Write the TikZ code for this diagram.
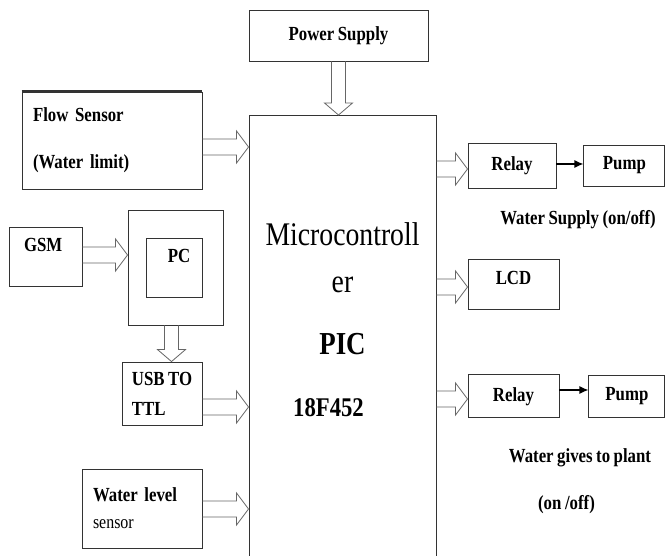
\documentclass[tikz,border=0pt]{standalone}
\usepackage{fontspec}
\setmainfont{Liberation Serif}[FakeStretch=0.84, WordSpace=0.84]
\usepackage{tikz}
\usetikzlibrary{positioning,arrows.meta,calc}
\definecolor{edge}{HTML}{333333}
\definecolor{hollowc}{HTML}{666666}
\tikzset{
  blk/.style={draw=edge, line width=0.9pt, inner sep=0pt,
              font=\bfseries\fontsize{20}{24}\selectfont},
  lblk/.style={blk, align=left},
  lbl/.style={inner sep=0pt, font=\bfseries\fontsize{20}{24}\selectfont},
  fat/.style={draw=hollowc, line width=0.8pt, line join=miter},
  wire/.style={draw=black, line width=1.2pt, ->},
  >={Latex[length=9pt,width=8pt]},
}
\newcommand{\rfat}[2]{%
  \draw[fat] ($(#1)+(0,-8)$) -- ($(#2)+(-12,-8)$) -- ($(#2)+(-12,-16)$) -- (#2)
    -- ($(#2)+(-12,16)$) -- ($(#2)+(-12,8)$) -- ($(#1)+(0,8)$);}
\newcommand{\dfat}[2]{%
  \draw[fat] ($(#1)+(-7,0)$) -- ($(#2)+(-7,-12)$) -- ($(#2)+(-14,-12)$) -- (#2)
    -- ($(#2)+(14,-12)$) -- ($(#2)+(7,-12)$) -- ($(#1)+(7,0)$);}

\begin{document}
\begin{tikzpicture}[x=1pt, y=-1pt, node distance=27pt]
\clip (0,0) rectangle (665,556);
\node[blk, minimum width=179pt, minimum height=51pt] (power) at (338.5,35.5) {Power Supply};
\node[blk, minimum width=187pt, minimum height=460pt, anchor=north] (mcu) at (342.5,115) {};
\node[anchor=north, inner sep=0pt, align=center, font=\fontsize{33}{47}\selectfont] (mcutext) at (342.5,222.5)
  {Microcontroll\\er\\[15pt]{\bfseries\fontsize{32}{47}\selectfont PIC\hspace*{10pt}}\\[15pt]{\bfseries\fontsize{27}{47}\selectfont 18F452\hspace*{28pt}}};

\node[lblk, text width=158pt, inner xsep=11pt, minimum height=97pt] (flow) at (112,140.5) {Flow Sensor\\[23pt](Water limit)};
\node[lblk, text width=43pt, inner xsep=15pt, minimum height=59pt, text depth=24pt] (gsm) at (45.5,256.5) {GSM};
\node[blk, minimum width=95pt, minimum height=115pt] (pcbox) at (175.5,267.5) {};
\node[blk, minimum width=56pt, minimum height=59pt, text depth=24pt] (pc) at (174,267.5) {\hspace*{10pt}PC};
\node[lblk, minimum width=80pt, minimum height=63pt] (usb) at (162,393.5) {USB TO\\[6pt]TTL};
\node[lblk, text width=98pt, inner xsep=11pt, minimum height=79pt] (level) at (142,508.5)
  {Water level\\[3pt]{\mdseries\fontsize{19}{24}\selectfont sensor}};

\node[blk, minimum width=88pt, minimum height=45pt] (relay1) at (512,165.5) {Relay};
\node[blk, minimum width=81pt, minimum height=41pt, right=of relay1] (pump1) {Pump};
\node[lbl, anchor=base] (supply) at (578,225) {Water Supply (on/off)};
\node[blk, minimum width=91pt, minimum height=50pt, text depth=12pt] (lcd) at (513.5,284) {LCD};
\node[blk, minimum width=91pt, minimum height=43pt, below=65pt of lcd] (relay2) {Relay};
\node[blk, minimum width=76pt, minimum height=42pt, right=29pt of relay2] (pump2) {Pump};
\node[lbl, anchor=base] (plant) at (580,463) {Water gives to plant};
\node[lbl, anchor=base] (onoff) at (566.5,509) {(on /off)};

\draw[line width=2.2pt, edge] (flow.north west) -- (flow.north east);
\dfat{power.south}{power.south |- mcu.north}
\rfat{flow.east |- 0,147}{mcu.west |- 0,147}
\rfat{gsm.east |- 0,255}{pcbox.west |- 0,255}
\dfat{171.5,0 |- pcbox.south}{171.5,0 |- usb.north}
\rfat{usb.east |- 0,407}{mcu.west |- 0,407}
\rfat{level.east |- 0,509}{mcu.west |- 0,509}
\rfat{mcu.east |- 0,169}{relay1.west |- 0,169}
\rfat{mcu.east |- 0,287}{lcd.west |- 0,287}
\rfat{mcu.east |- 0,399}{relay2.west |- 0,399}
\draw[wire] (relay1.east |- 0,164) -- (pump1.west |- 0,164);
\draw[wire] (relay2.east |- 0,390) -- (pump2.west |- 0,390);
\end{tikzpicture}
\end{document}
